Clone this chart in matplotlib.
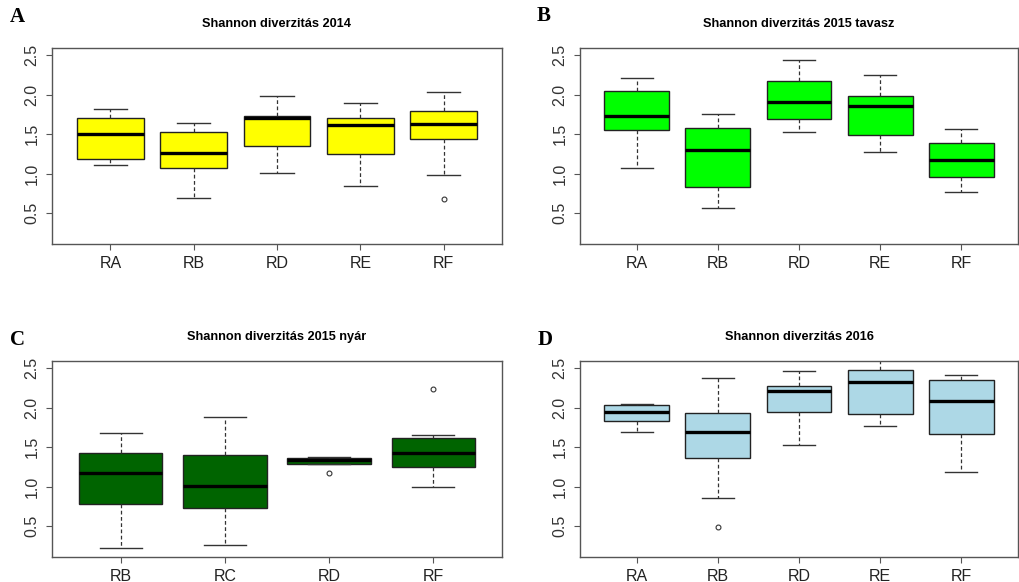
import matplotlib
matplotlib.use("Agg")
import matplotlib.pyplot as plt

# ---------------- data ----------------
cats_a = ["RA", "RB", "RD", "RE", "RF"]
lo_a = [1.105, 0.69, 1.003, 0.842, 0.978]
q1_a = [1.185, 1.071, 1.354, 1.244, 1.434]
med_a = [1.50, 1.257, 1.705, 1.612, 1.629]
q3_a = [1.705, 1.523, 1.735, 1.705, 1.794]
hi_a = [1.815, 1.637, 1.988, 1.895, 2.035]
out_a = [[], [], [], [], [0.673]]

cats_b = ["RA", "RB", "RD", "RE", "RF"]
lo_b = [1.075, 0.563, 1.523, 1.27, 0.771]
q1_b = [1.553, 0.834, 1.692, 1.494, 0.957]
med_b = [1.735, 1.299, 1.904, 1.853, 1.168]
q3_b = [2.043, 1.578, 2.179, 1.988, 1.388]
hi_b = [2.208, 1.756, 2.437, 2.246, 1.57]
out_b = [[], [], [], [], []]

cats_c = ["RB", "RC", "RD", "RF"]
lo_c = [0.226, 0.255, 1.289, 0.989]
q1_c = [0.783, 0.732, 1.289, 1.247]
med_c = [1.175, 1.006, 1.34, 1.42]
q3_c = [1.432, 1.399, 1.369, 1.618]
hi_c = [1.677, 1.884, 1.378, 1.648]
out_c = [[], [], [1.167], [2.234]]

cats_d = ["RA", "RB", "RD", "RE", "RF"]
lo_d = [1.69, 0.859, 1.53, 1.766, 1.179]
q1_d = [1.829, 1.357, 1.943, 1.926, 1.665]
med_d = [1.951, 1.694, 2.213, 2.327, 2.086]
q3_d = [2.032, 1.93, 2.276, 2.475, 2.348]
hi_d = [2.053, 2.373, 2.462, 2.62, 2.42]
out_d = [[], [0.487], [], [], []]

titles = ["Shannon diverzitás 2014", "Shannon diverzitás 2015 tavasz",
          "Shannon diverzitás 2015 nyár", "Shannon diverzitás 2016"]
letters = ["A", "B", "C", "D"]
colors = ["#FFFF00", "#00FF00", "#006400", "#ADD8E6"]
yticks = [0.5, 1.0, 1.5, 2.0, 2.5]

# ---------------- figure ----------------
W, H = 1019, 582
fig = plt.figure(figsize=(W / 100, H / 100), dpi=100)
fig.patch.set_facecolor("white")

def px_axes(left, top, right, bottom):
    return fig.add_axes([left / W, 1 - bottom / H, (right - left) / W, (bottom - top) / H])

panels = [
    (px_axes(52, 48, 502, 244), cats_a, lo_a, q1_a, med_a, q3_a, hi_a, out_a),
    (px_axes(580, 48, 1018, 244), cats_b, lo_b, q1_b, med_b, q3_b, hi_b, out_b),
    (px_axes(52, 361, 502, 557), cats_c, lo_c, q1_c, med_c, q3_c, hi_c, out_c),
    (px_axes(580, 361, 1018, 557), cats_d, lo_d, q1_d, med_d, q3_d, hi_d, out_d),
]

letter_pos = [(10, 17), (537, 16), (10, 340), (538, 340)]
sans = ["Liberation Sans", "DejaVu Sans"]
serif = ["Liberation Serif", "DejaVu Serif"]

for i, (ax, cats, lo, q1, med, q3, hi, outs) in enumerate(panels):
    stats = []
    for c, a, b, m, d, e, f in zip(cats, lo, q1, med, q3, hi, outs):
        stats.append(dict(label=c, whislo=a, q1=b, med=m, q3=d, whishi=e, fliers=f))
    n = len(cats)
    ax.bxp(stats, positions=range(1, n + 1), widths=0.8, patch_artist=True,
           boxprops=dict(facecolor=colors[i], edgecolor="#222222", linewidth=1.0),
           medianprops=dict(color="black", linewidth=2.4, solid_capstyle="butt"),
           whiskerprops=dict(color="#333333", linewidth=0.9, linestyle=(0, (3, 2))),
           capprops=dict(color="#333333", linewidth=1.0),
           capwidths=0.4,
           flierprops=dict(marker="o", markersize=3.5, markerfacecolor="none",
                           markeredgecolor="#333333", markeredgewidth=0.8))
    ext = n * 0.04
    ax.set_xlim(0.5 - ext, n + 0.5 + ext)
    ax.set_ylim(0.2 - 0.092, 2.5 + 0.092)
    ax.set_yticks(yticks)
    ax.set_yticklabels(["0.5", "1.0", "1.5", "2.0", "2.5"], rotation=90,
                       va="center", family=sans, fontsize=11.5, color="#333333")
    ax.set_xticks(range(1, n + 1))
    ax.set_xticklabels(cats, family=sans, fontsize=11.5, color="#222222")
    ax.tick_params(axis="both", direction="out", length=4.5, width=0.8, colors="#555555")
    ax.tick_params(axis="y", pad=4.5, labelcolor="#333333")
    ax.tick_params(axis="x", pad=4, labelcolor="#222222")
    for s in ax.spines.values():
        s.set_color("#555555")
        s.set_linewidth(1.0)
    ax.set_facecolor("white")
    ax.set_title(titles[i], family=sans, fontsize=9.2, fontweight="bold", pad=15)
    lx, ly = letter_pos[i]
    fig.text(lx / W, 1 - ly / H, letters[i], family=serif, fontsize=15,
             fontweight="bold", ha="left", va="center")

fig.savefig("out.png", dpi=100, facecolor="white")
